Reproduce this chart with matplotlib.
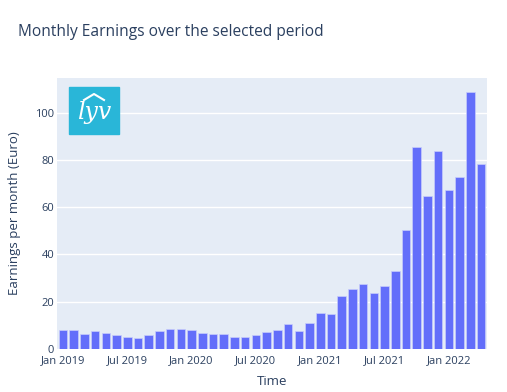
import matplotlib
matplotlib.use("Agg")
import matplotlib.pyplot as plt
from matplotlib.patches import Rectangle

plt.rcParams['font.family'] = ['Open Sans', 'DejaVu Sans']

# monthly earnings, Jan 2019 .. Apr 2022
months = [f"{m} {y}" for y in range(2019, 2023)
          for m in ["Jan", "Feb", "Mar", "Apr", "May", "Jun",
                    "Jul", "Aug", "Sep", "Oct", "Nov", "Dec"]][:40]
earnings = [7.9, 7.9, 6.2, 7.8, 6.9, 5.8, 4.9, 4.6, 6.0, 7.8, 8.5, 8.5,
            8.1, 6.9, 6.2, 6.3, 4.9, 5.2, 5.8, 7.1, 8.1, 10.5, 7.5, 10.8,
            15.3, 15.0, 22.6, 25.4, 27.5, 23.7, 26.5, 32.9, 50.5, 85.4, 64.7, 83.7,
            67.2, 73.0, 108.9, 78.3]
tick_labels = ["Jan 2019", "Jul 2019", "Jan 2020", "Jul 2020",
               "Jan 2021", "Jul 2021", "Jan 2022"]

txt = '#2a3f5f'
fig = plt.figure(figsize=(5.07, 3.92), dpi=100)
ax = fig.add_axes([57/507, 1-349/392, 430/507, 271/392])
ax.set_facecolor('#e5ecf6')

x = list(range(len(months)))
ax.bar(x, earnings, width=0.8, color='#636efa', edgecolor='#c8cdfb', linewidth=0.5, zorder=3)

ax.set_xlim(-0.55, len(months) - 0.45)
ax.set_ylim(0, 114.7)
ax.set_yticks([0, 20, 40, 60, 80, 100])
ax.set_xticks([months.index(t) for t in tick_labels])
ax.set_xticklabels(tick_labels)
ax.grid(axis='y', color='white', linewidth=1, zorder=0)
ax.tick_params(length=0, labelsize=8, colors=txt)
ax.tick_params(axis='x', pad=4.5)
ax.tick_params(axis='y', pad=2)
for s in ax.spines.values():
    s.set_visible(False)

ax.set_xlabel('Time', fontsize=9.5, color=txt, labelpad=6)
ax.set_ylabel('Earnings per month (Euro)', fontsize=9.5, color=txt, labelpad=10)
fig.text(18/507, 1-32/392, 'Monthly Earnings over the selected period',
         fontsize=11.2, color=txt, va='center')

# logo
fig.patches.append(Rectangle((69/507, 1-134/392), 50/507, 47/392,
                             transform=fig.transFigure, color='#29b6d8', zorder=5))
fig.text(94/507, 1-113/392, 'lyv', fontsize=17, color='white', style='italic',
         ha='center', va='center', zorder=6, family='DejaVu Serif')
fig.lines.append(plt.Line2D([84/507, 94/507, 104/507], [1-100/392, 1-94/392, 1-100/392],
                            transform=fig.transFigure, color='white', linewidth=1.5, zorder=6))

fig.savefig('out.png', dpi=100)
